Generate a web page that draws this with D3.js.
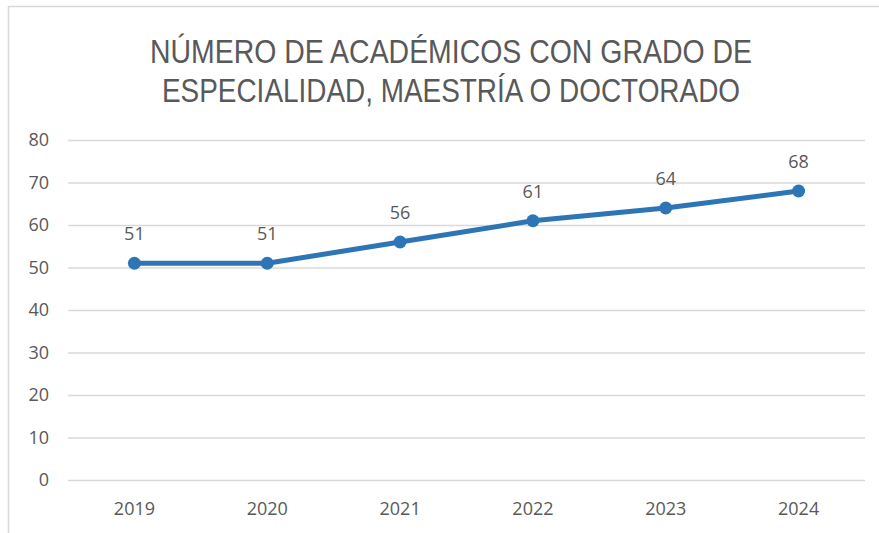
<!DOCTYPE html>
<html>
<head>
<meta charset="utf-8">
<script src="https://cdn.jsdelivr.net/npm/d3@7"></script>
<style>
  body { margin: 0; background: #fff; }
  text { font-family: "Open Sans", "Liberation Sans", sans-serif; fill: #595959; }
</style>
</head>
<body>
<div id="chart"></div>
<script>
var width = 879,
  height = 533;

var years = ["2019", "2020", "2021", "2022", "2023", "2024"];
var values = [51, 51, 56, 61, 64, 68];
var yTicks = [0, 10, 20, 30, 40, 50, 60, 70, 80];
var titleLines = ["NÚMERO DE ACADÉMICOS CON GRADO DE", "ESPECIALIDAD, MAESTRÍA O DOCTORADO"];

var svg = d3.select("#chart").append("svg")
  .attr("width", width)
  .attr("height", height);

// chart frame
svg.append("rect")
  .attr("x", 8.5).attr("y", 6.5)
  .attr("width", 900).attr("height", 600)
  .attr("fill", "#fff")
  .attr("stroke", "#d9d9d9")
  .attr("stroke-width", 1.5);

var x = d3.scaleBand().domain(years).range([68, 865]);
var y = d3.scaleLinear().domain([0, 80]).range([480, 140]);

// title
var titleWidths = [602, 578];
svg.selectAll(".title").data(titleLines).enter().append("text")
  .attr("class", "title")
  .attr("x", 451)
  .attr("y", function (d, i) { return 63 + i * 39; })
  .attr("text-anchor", "middle")
  .attr("textLength", function (d, i) { return titleWidths[i]; })
  .attr("lengthAdjust", "spacingAndGlyphs")
  .style("font-family", "'Liberation Sans', sans-serif")
  .style("font-size", "34px")
  .text(function (d) { return d; });

// gridlines
svg.append("g")
  .attr("transform", "translate(68,0)")
  .call(d3.axisLeft(y).tickValues(yTicks).tickSize(-(865 - 68)).tickFormat(""))
  .call(function (g) {
    g.select(".domain").remove();
    g.selectAll(".tick line").attr("stroke", "#d9d9d9").attr("stroke-width", 1.5);
  });

// y labels
svg.append("g")
  .attr("transform", "translate(49,0)")
  .call(d3.axisLeft(y).tickValues(yTicks).tickSize(0).tickPadding(0))
  .call(function (g) {
    g.select(".domain").remove();
    g.selectAll("text").style("font-size", "18px").attr("fill", "#595959");
  });

// x labels
svg.append("g")
  .attr("transform", "translate(0,480)")
  .call(d3.axisBottom(x).tickSize(0).tickPadding(22))
  .call(function (g) {
    g.select(".domain").remove();
    g.selectAll("text").style("font-size", "18px").attr("fill", "#595959");
  });

var cx = function (d, i) { return x(years[i]) + x.bandwidth() / 2; };

var line = d3.line()
  .x(function (d, i) { return cx(d, i); })
  .y(function (d) { return y(d); });

svg.append("path")
  .datum(values)
  .attr("d", line)
  .attr("fill", "none")
  .attr("stroke", "#2e75b6")
  .attr("stroke-width", 5)
  .attr("stroke-linejoin", "round");

svg.selectAll(".dot").data(values).enter().append("circle")
  .attr("class", "dot")
  .attr("cx", cx)
  .attr("cy", function (d) { return y(d); })
  .attr("r", 6.5)
  .attr("fill", "#2e75b6");

svg.selectAll(".lbl").data(values).enter().append("text")
  .attr("class", "lbl")
  .attr("x", cx)
  .attr("y", function (d) { return y(d) - 23; })
  .attr("text-anchor", "middle")
  .style("font-size", "18px")
  .text(function (d) { return d; });
</script>
</body>
</html>
